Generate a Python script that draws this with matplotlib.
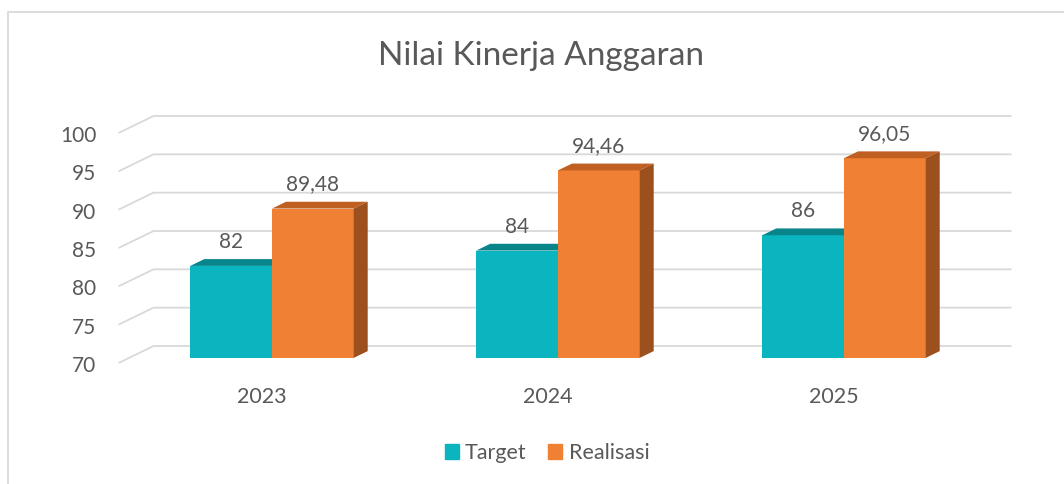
import matplotlib
matplotlib.use("Agg")
import matplotlib.pyplot as plt
from matplotlib.patches import Polygon, Patch
from matplotlib.lines import Line2D
from matplotlib.transforms import ScaledTranslation

# ── Data ──
years = ["2023", "2024", "2025"]
target = [82, 84, 86]
realisasi = [89.48, 94.46, 96.05]
series_names = ["Target", "Realisasi"]

# ── Style ──
C = {"target": "#0BB5BF", "target_top": "#08848B", "target_side": "#077980",
     "real": "#EF8034", "real_top": "#BF6022", "real_side": "#9C501D",
     "grid": "#D9D9D9", "text": "#595959", "border": "#D9D9D9"}
plt.rcParams["font.family"] = ["Lato", "DejaVu Sans"]
plt.rcParams["text.color"] = C["text"]

W, H = 1064, 484
Y0, Y1 = 70, 100
# depth of the 3D floor, in data units (x: categories, y: values)
DX = 35 / 286
DY = 17 / 7.667
D_FRONT, D_BACK = 0.3, 0.7
BW = 0.2857


def fmt(v):
    if float(v).is_integer():
        return str(int(v))
    return f"{v:.2f}".replace(".", ",")


def bar3d(ax, left, v, front, top, side):
    x0 = left + D_FRONT * DX
    b0 = Y0 + D_FRONT * DY
    ax.bar(x0, v - Y0, bottom=b0, width=BW, align="edge", color=front,
           lw=0, clip_on=False, zorder=3)
    ddx = (D_BACK - D_FRONT) * DX
    ddy = (D_BACK - D_FRONT) * DY
    yt = v + D_FRONT * DY
    ax.add_patch(Polygon([(x0, yt), (x0 + BW, yt), (x0 + BW + ddx, yt + ddy),
                          (x0 + ddx, yt + ddy)], closed=True, color=top,
                         lw=0, clip_on=False, zorder=3))
    ax.add_patch(Polygon([(x0 + BW, b0), (x0 + BW + ddx, b0 + ddy),
                          (x0 + BW + ddx, yt + ddy), (x0 + BW, yt)], closed=True,
                         color=side, lw=0, clip_on=False, zorder=3))
    ax.annotate(fmt(v), xy=(x0 + BW / 2, yt), xytext=(0, 24),
                textcoords="offset pixels", ha="center", va="center",
                fontsize=15, color=C["text"], zorder=5)


fig = plt.figure(figsize=(W / 100, H / 100), dpi=100)
ax = fig.add_axes([118.5 / W, (H - 363) / H, 858 / W, 230 / H])
ax.set_xlim(-0.5, 2.5)
ax.set_ylim(Y0, Y1)
ax.patch.set_alpha(0)
for s in ax.spines.values():
    s.set_visible(False)

# gridlines: front-left diagonal, then along the back wall
for v in range(Y0, Y1 + 1, 5):
    ax.plot([-0.5, -0.5 + DX, 2.5 + DX], [v, v + DY, v + DY], color=C["grid"],
            lw=1.3, clip_on=False, zorder=1, solid_capstyle="butt")

for i in range(len(years)):
    bar3d(ax, i - BW, target[i], C["target"], C["target_top"], C["target_side"])
    bar3d(ax, i, realisasi[i], C["real"], C["real_top"], C["real_side"])

ax.set_yticks(range(Y0, Y1 + 1, 5))
ax.set_xticks(range(len(years)), years)
ax.tick_params(axis="y", length=0, pad=16, labelsize=15, labelcolor=C["text"])
ax.tick_params(axis="x", length=0, pad=17, labelsize=15.5, labelcolor=C["text"])
# Excel puts the value labels a touch below the front gridline ends
shift = ScaledTranslation(0, -3 / 100, fig.dpi_scale_trans)
for t in ax.get_yticklabels():
    t.set_va("center")
    t.set_transform(t.get_transform() + shift)

fig.text(541 / W, 1 - 65 / H, "Nilai Kinerja Anggaran", ha="center",
         va="baseline", fontsize=24, color=C["text"])

handles = [Patch(color=C["target"]), Patch(color=C["real"])]
fig.legend(handles, series_names, loc="center", bbox_to_anchor=(547 / W, 1 - 453 / H),
           ncol=2, frameon=False, fontsize=15.5, handlelength=0.65, handleheight=0.65,
           handletextpad=0.3, columnspacing=1.0, labelcolor=C["text"])

# chart area border (left and top edges visible in the crop)
fig.add_artist(Line2D([8 / W, 8 / W, 1.0], [0, 1 - 11.5 / H, 1 - 11.5 / H],
                      transform=fig.transFigure, color=C["border"], lw=1.3))

fig.savefig("out.png", dpi=100, facecolor="white")
plt.close(fig)
